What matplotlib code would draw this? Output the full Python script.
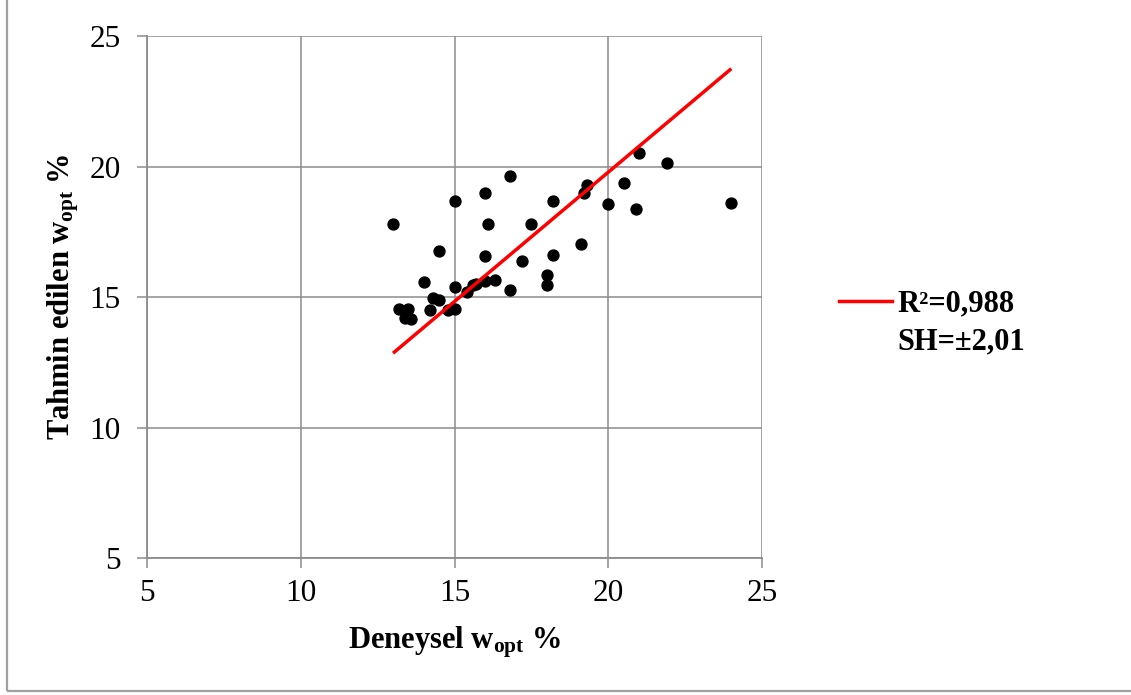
import matplotlib
matplotlib.use("Agg")
import matplotlib.pyplot as plt
from matplotlib.lines import Line2D
from matplotlib.patches import Rectangle

# measured (x) vs predicted (y) optimum water content, %
deneysel = [13.0, 15.0, 16.0, 16.8, 18.2, 16.1, 17.5, 14.5, 16.0, 18.2,
            17.2, 18.0, 18.0, 16.8, 14.0, 15.0, 15.6, 15.7, 16.0, 16.3,
            15.4, 14.3, 14.5, 13.2, 13.5, 13.4, 13.6, 14.2, 14.8, 15.0,
            21.0, 21.9, 20.5, 19.3, 19.2, 20.0, 20.9, 24.0, 19.1]
tahmin = [17.8, 18.7, 19.0, 19.65, 18.7, 17.8, 17.8, 16.77, 16.58, 16.63,
          16.4, 15.85, 15.46, 15.27, 15.58, 15.4, 15.45, 15.5, 15.62, 15.66,
          15.2, 14.95, 14.88, 14.53, 14.55, 14.2, 14.15, 14.5, 14.5, 14.53,
          20.53, 20.15, 19.38, 19.3, 19.0, 18.55, 18.37, 18.6, 17.05]

# fitted line end points
fit_x = [13.0, 24.0]
fit_y = [12.85, 23.75]

ticks = [5, 10, 15, 20, 25]
legend_lines = ["R²=0,988", "SH=±2,01"]

plt.rcParams['font.family'] = ['Liberation Serif', 'DejaVu Serif']
plt.rcParams['mathtext.fontset'] = 'custom'
plt.rcParams['mathtext.rm'] = 'Liberation Serif:bold'
plt.rcParams['mathtext.it'] = 'Liberation Serif:bold'
plt.rcParams['mathtext.bf'] = 'Liberation Serif:bold'

grid_col = '#8c8c8c'

fig = plt.figure(figsize=(11.31, 6.95), dpi=100)
fig.patch.set_facecolor('white')
ax = fig.add_axes([0.130, 0.197, 0.5438, 0.7511])

ax.scatter(deneysel, tahmin, s=62, color='black', zorder=3)
ax.plot(fit_x, fit_y, color='#ff0000', lw=2.5, zorder=4, solid_capstyle='butt')

ax.set_xlim(5, 25)
ax.set_ylim(5, 25)
ax.set_xticks(ticks)
ax.set_yticks(ticks)
ax.grid(True, color=grid_col, lw=1.1, zorder=0)
ax.set_axisbelow(True)

for s in ['top', 'right']:
    ax.spines[s].set_visible(False)
for s in ['left', 'bottom']:
    ax.spines[s].set_color(grid_col)
    ax.spines[s].set_linewidth(1.3)

ax.tick_params(axis='both', direction='out', length=7, width=1.1,
               color=grid_col, labelsize=22.5, labelcolor='black')
ax.tick_params(axis='y', pad=12)
ax.tick_params(axis='x', pad=8)

ax.set_xlabel("Deneysel w$_{\\mathrm{opt}}$ %", fontsize=22, fontweight='bold', labelpad=12)
ax.set_ylabel("Tahmin edilen w$_{\\mathrm{opt}}$ %", fontsize=22, fontweight='bold', labelpad=6)

handles = [Line2D([], [], color='#ff0000', lw=2.5),
           Line2D([], [], color='none')]
ax.legend(handles, legend_lines, loc='center left', bbox_to_anchor=(1.08, 0.45),
          frameon=False, prop={'weight': 'bold', 'size': 22},
          handlelength=1.75, handletextpad=0.18, labelspacing=0.3)

fig.add_artist(Rectangle((7 / 1131, 4.5 / 695), 1.0, 0.996, transform=fig.transFigure,
                         fill=False, edgecolor='#a0a0a0', lw=1.6))

plt.savefig('out.png', dpi=100, facecolor='white')
